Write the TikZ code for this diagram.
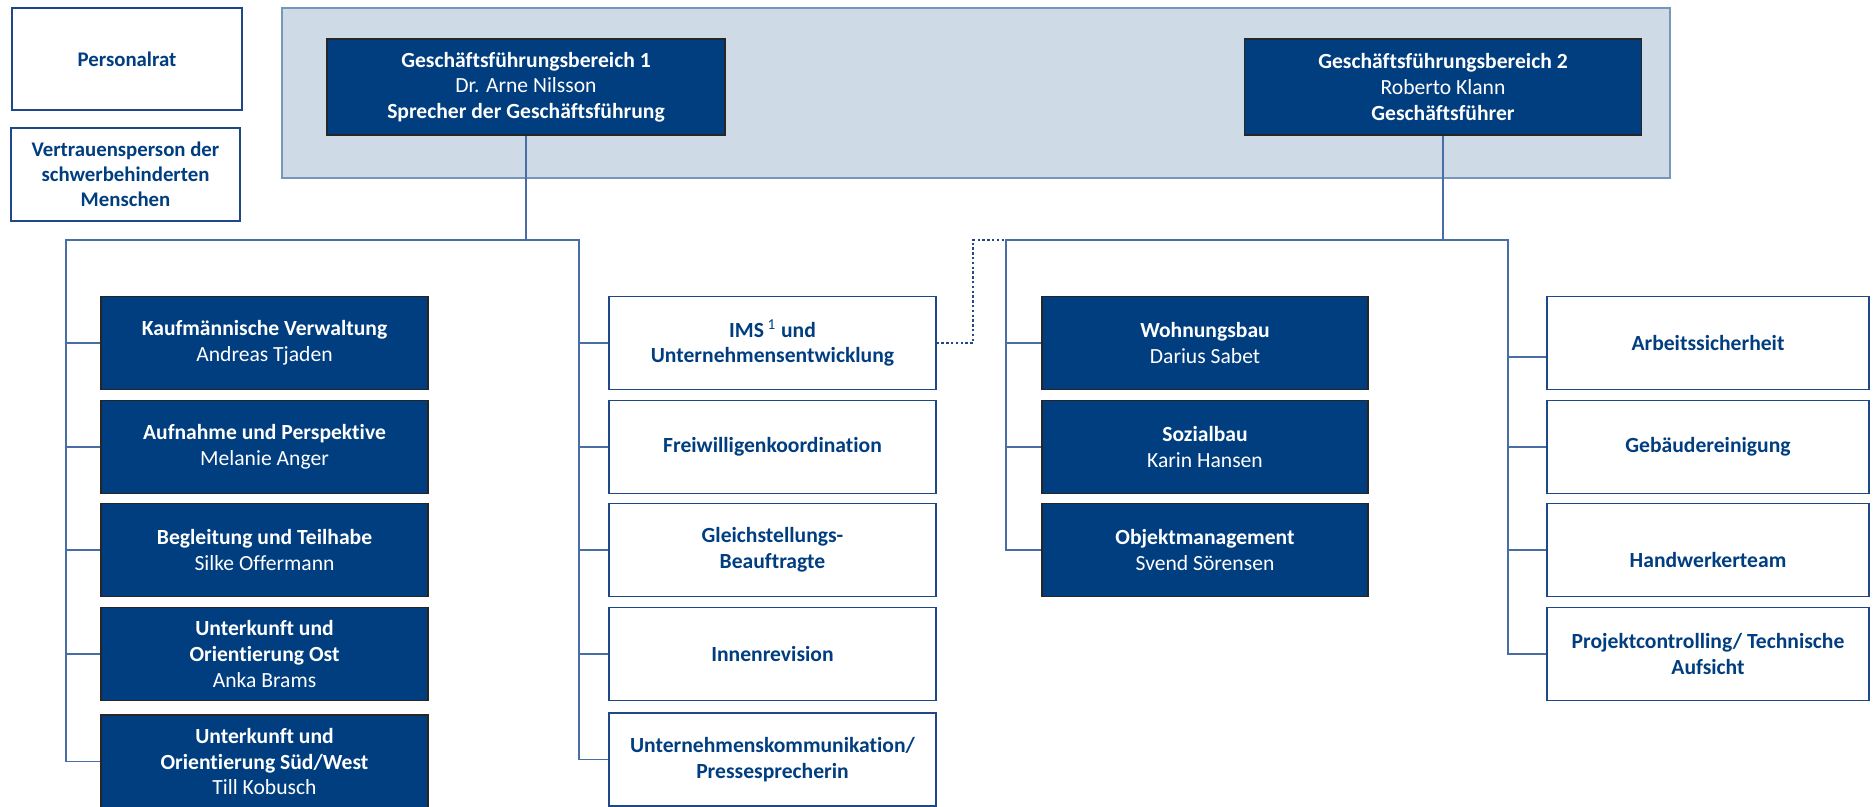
\documentclass[tikz,border=0pt]{standalone}
\usepackage{fontspec}
\setmainfont{Carlito}[Ligatures={NoCommon}]
\definecolor{gfblau}{RGB}{0,62,128}
\definecolor{rahmenfill}{RGB}{206,218,230}
\definecolor{rahmendraw}{RGB}{118,150,190}
\definecolor{linienblau}{RGB}{72,110,165}
\definecolor{boxrand}{RGB}{30,72,135}
\tikzset{
  dunkelbox/.style={draw=black!85, fill=gfblau, text=white, align=center, line width=0.6pt,
    minimum width=163.5pt, minimum height=46.5pt, inner sep=1pt, font=\fontsize{10.8}{12.8}\selectfont},
  hellbox/.style={draw=boxrand, fill=white, text=gfblau, align=center, line width=0.6pt,
    minimum width=163.5pt, minimum height=46.5pt, inner sep=1pt, font=\fontsize{10.8}{12.8}\selectfont\bfseries},
  linie/.style={draw=linienblau, line width=0.7pt},
  punktlinie/.style={draw=boxrand, line width=0.6pt, dash pattern={on 1.2pt off 1.2pt}},
}
\begin{document}
\begin{tikzpicture}[x=0.5pt,y=0.5pt,yscale=-1,xscale=1]
			\useasboundingbox (0,0) rectangle (1873,807);
			%Shape: Rectangle
			\draw [draw=rahmendraw, fill=rahmenfill, line width=0.7pt] (282,8) rectangle (1670,178);

			% Text Node
			\node [hellbox, minimum width=115pt, minimum height=51pt, font=\fontsize{10.4}{12.6}\selectfont\bfseries] (pr) at (127,59) {Personalrat};
			% Text Node
			\node [hellbox, minimum width=114.5pt, font=\fontsize{10.4}{12.6}\selectfont\bfseries] (vp) at (125.5,174.5) {Vertrauensperson der\\schwerbehinderten\\Menschen};

			% Text Node
			\node [dunkelbox, minimum width=199pt, minimum height=48pt] (gf1) at (526,87) {\textbf{Geschäftsführungsbereich 1}\\Dr. Arne Nilsson\\\textbf{Sprecher der Geschäftsführung}};
			% Text Node
			\node [dunkelbox, minimum width=198.5pt, minimum height=48pt] (gf2) at (1443,87) {\textbf{Geschäftsführungsbereich 2}\\Roberto Klann\\\textbf{Geschäftsführer}};

			% Text Node
			\node [dunkelbox] (kv) at (264.5,343) {\textbf{Kaufmännische Verwaltung}\\Andreas Tjaden};
			\node [dunkelbox] (ap) at (264.5,447) {\textbf{Aufnahme und Perspektive}\\Melanie Anger};
			\node [dunkelbox] (bt) at (264.5,550) {\textbf{Begleitung und Teilhabe}\\Silke Offermann};
			\node [dunkelbox] (uko) at (264.5,654) {\textbf{Unterkunft und}\\\textbf{Orientierung Ost}\\Anka Brams};
			\node [dunkelbox] (uksw) at (264.5,761.5) {\textbf{Unterkunft und}\\\textbf{Orientierung Süd/West}\\Till Kobusch};

			% Text Node
			\node [hellbox] (ims) at (772.5,343) {IMS\,{\mdseries\textsuperscript{1}} und\\Unternehmensentwicklung};
			\node [hellbox] (fk) at (772.5,447) {Freiwilligenkoordination};
			\node [hellbox] (gb) at (772.5,550) {Gleichstellungs-\\Beauftragte};
			\node [hellbox] (ir) at (772.5,654) {Innenrevision};
			\node [hellbox] (uk) at (772.5,759.5) {Unternehmenskommunikation/\\Pressesprecherin};

			% Text Node
			\node [dunkelbox, minimum width=163pt] (wb) at (1205,343) {\textbf{Wohnungsbau}\\Darius Sabet};
			\node [dunkelbox, minimum width=163pt] (sb) at (1205,447) {\textbf{Sozialbau}\\Karin Hansen};
			\node [dunkelbox, minimum width=163pt] (om) at (1205,550) {\textbf{Objektmanagement}\\Svend Sörensen};

			% Text Node
			\node [hellbox, minimum width=161pt] (as) at (1708,343) {Arbeitssicherheit};
			\node [hellbox, minimum width=161pt] (gr) at (1708,447) {Gebäudereinigung};
			\node [hellbox, minimum width=161pt] (hw) at (1708,550) {\strut\\\strut Handwerkerteam};
			\node [hellbox, minimum width=161pt] (pc) at (1708,654) {Projektcontrolling/ Technische\\Aufsicht};

			%Straight Lines
			\coordinate (bl) at (66,240);
			\coordinate (br) at (579,240);
			\coordinate (bm) at (1006,240);
			\coordinate (bx) at (1508,240);
			\coordinate (knick) at (973,240);
			\draw [linie] (gf1.south) -- (gf1.south |- bl);
			\draw [linie] (uksw.west) -| (bl) -- (br) |- (uk.west);
			\foreach \n in {kv,ap,bt,uko} \draw [linie] (\n.west) -- (\n.west -| bl);
			\foreach \n in {ims,fk,gb,ir} \draw [linie] (\n.west) -- (\n.west -| br);

			\draw [linie] (gf2.south) -- (gf2.south |- bm);
			\draw [linie] (om.west) -| (bm) -- (bx) |- (pc.west);
			\foreach \n in {wb,sb} \draw [linie] (\n.west) -- (\n.west -| bm);
			\foreach \n in {gr,hw} \draw [linie] (\n.west) -- (\n.west -| bx);
			\draw [linie] ([yshift=7pt]as.west) -- ([yshift=7pt]as.west -| bx);

			%Dotted Line
			\draw [punktlinie] (ims.east) -| (knick) -- (bm);
		\end{tikzpicture}
\end{document}
